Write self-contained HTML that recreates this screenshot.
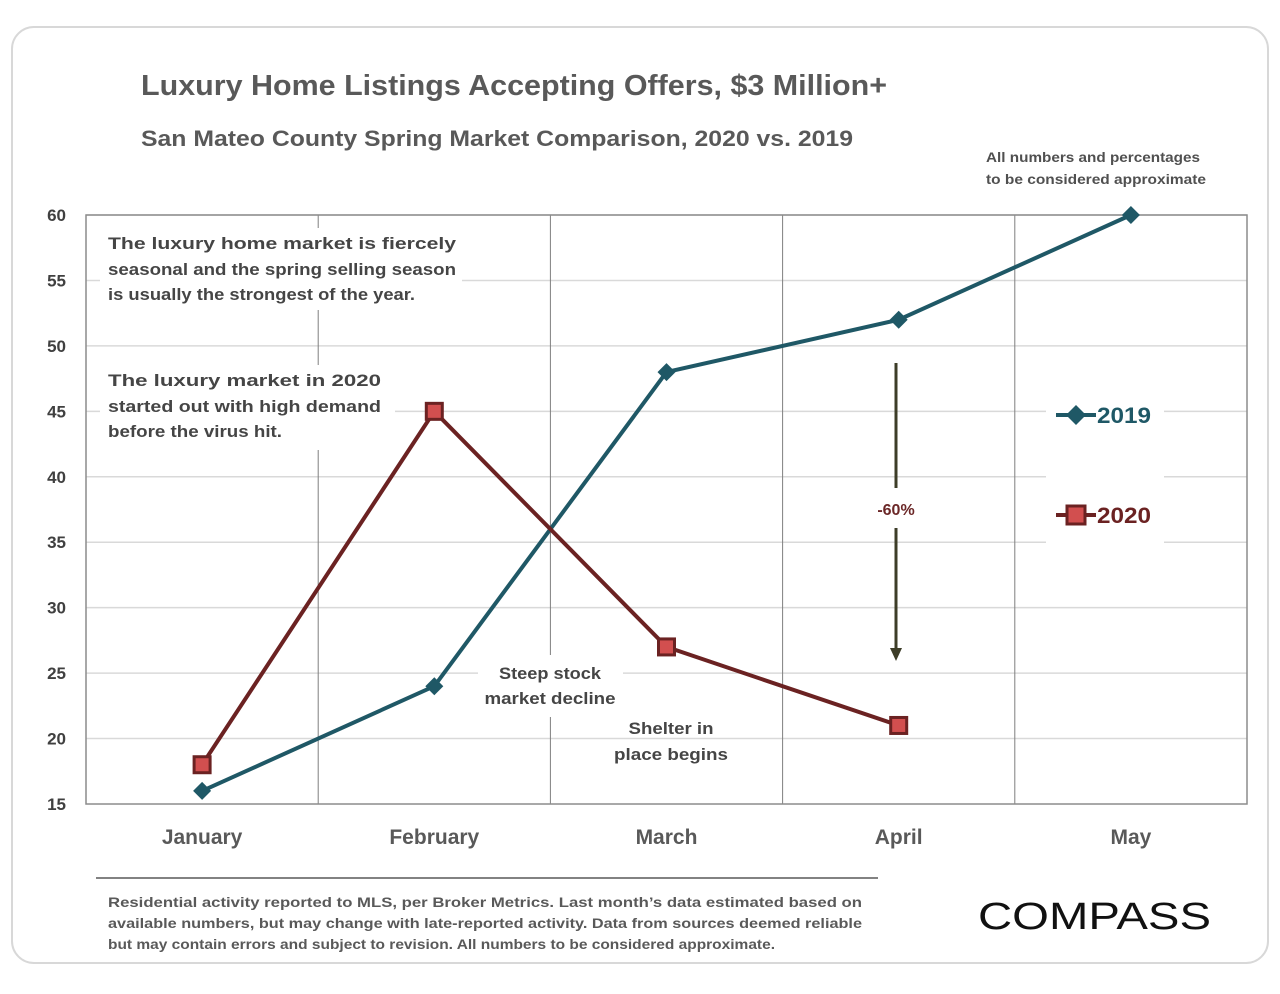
<!DOCTYPE html>
<html><head><meta charset="utf-8"><style>
body{margin:0;background:#fff;font-family:"Liberation Sans",sans-serif;}
svg text{font-family:"Liberation Sans",sans-serif;}
</style></head><body>
<svg width="1280" height="989" viewBox="0 0 1280 989">
<rect x="12" y="27" width="1256" height="936" rx="22" fill="#fff" stroke="#d8d8d8" stroke-width="2"/>
<text x="141" y="95" font-size="29" font-weight="bold" fill="#595959" textLength="746" lengthAdjust="spacingAndGlyphs">Luxury Home Listings Accepting Offers, $3 Million+</text>
<text x="141" y="146" font-size="22" font-weight="bold" fill="#595959" textLength="712" lengthAdjust="spacingAndGlyphs">San Mateo County Spring Market Comparison, 2020 vs. 2019</text>
<text x="986" y="162" font-size="14" font-weight="bold" fill="#505050" textLength="214" lengthAdjust="spacingAndGlyphs">All numbers and percentages</text>
<text x="986" y="184" font-size="14" font-weight="bold" fill="#505050" textLength="220" lengthAdjust="spacingAndGlyphs">to be considered approximate</text>
<g id="grid"></g><g id="axes"></g>
<g id="annos">
<rect x="100" y="228" width="362" height="82" fill="#fff"/>
<text font-size="17" font-weight="bold" fill="#454545" lengthAdjust="spacingAndGlyphs"><tspan x="108" y="249" textLength="348" lengthAdjust="spacingAndGlyphs">The luxury home market is fiercely</tspan><tspan x="108" y="275" textLength="348" lengthAdjust="spacingAndGlyphs">seasonal and the spring selling season</tspan><tspan x="108" y="300" textLength="307" lengthAdjust="spacingAndGlyphs">is usually the strongest of the year.</tspan></text>
<rect x="100" y="365" width="295" height="85" fill="#fff"/>
<text font-size="17" font-weight="bold" fill="#454545"><tspan x="108" y="386" textLength="273" lengthAdjust="spacingAndGlyphs">The luxury market in 2020</tspan><tspan x="108" y="412" textLength="273" lengthAdjust="spacingAndGlyphs">started out with high demand</tspan><tspan x="108" y="437" textLength="174" lengthAdjust="spacingAndGlyphs">before the virus hit.</tspan></text>
<rect x="478" y="655" width="145" height="62" fill="#fff"/>
<text font-size="17" font-weight="bold" fill="#454545" text-anchor="middle"><tspan x="550" y="679" textLength="102" lengthAdjust="spacingAndGlyphs">Steep stock</tspan><tspan x="550" y="704" textLength="131" lengthAdjust="spacingAndGlyphs">market decline</tspan></text>
<text font-size="17" font-weight="bold" fill="#454545" text-anchor="middle"><tspan x="671" y="734" textLength="85" lengthAdjust="spacingAndGlyphs">Shelter in</tspan><tspan x="671" y="760" textLength="114" lengthAdjust="spacingAndGlyphs">place  begins</tspan></text>
<line x1="896" y1="363" x2="896" y2="488" stroke="#3d3d28" stroke-width="3"/>
<line x1="896" y1="528" x2="896" y2="650" stroke="#3d3d28" stroke-width="3"/>
<polygon points="890,648 902,648 896,661" fill="#3d3d28"/>
<text x="896" y="515" font-size="16" font-weight="bold" fill="#6b2727" text-anchor="middle">-60%</text>
</g>
<g id="series"></g>
<g>
<rect x="1046" y="392" width="118" height="152" fill="#fff"/>
<g><line x1="1056" y1="415" x2="1096" y2="415" stroke="#1f5866" stroke-width="4"/><polygon points="1076,405 1086,415 1076,425 1066,415" fill="#1f5866"/><text x="1097" y="423" font-size="22" font-weight="bold" fill="#1f5866" textLength="54" lengthAdjust="spacingAndGlyphs">2019</text></g>
<g><line x1="1056" y1="515" x2="1096" y2="515" stroke="#6b2222" stroke-width="4"/><rect x="1067" y="506" width="18" height="18" fill="#d24f4f" stroke="#6b2222" stroke-width="3"/><text x="1097" y="523" font-size="22" font-weight="bold" fill="#6b2222" textLength="54" lengthAdjust="spacingAndGlyphs">2020</text></g>
</g>
<line x1="96" y1="878" x2="878" y2="878" stroke="#595959" stroke-width="1.5"/>
<text font-size="14" font-weight="bold" fill="#595959"><tspan x="108" y="907" textLength="754" lengthAdjust="spacingAndGlyphs">Residential activity reported to MLS, per Broker Metrics. Last month’s data estimated based on</tspan><tspan x="108" y="928" textLength="754" lengthAdjust="spacingAndGlyphs">available numbers, but may change with late-reported activity. Data from sources deemed reliable</tspan><tspan x="108" y="949" textLength="667" lengthAdjust="spacingAndGlyphs">but may contain errors and subject to revision. All numbers to be considered approximate.</tspan></text>
<text x="978" y="929" font-size="38" fill="#111" textLength="233" lengthAdjust="spacingAndGlyphs">COMPASS</text>
</svg>
<script>
const categories=["January","February","March","April","May"];
const values2019=[16,24,48,52,60];
const values2020=[18,45,27,21];
const yTicks=[15,20,25,30,35,40,45,50,55,60];
const NS="http://www.w3.org/2000/svg";
const L=86,R=1247,T=215,B=804,yMin=15,yMax=60;
const band=(R-L)/categories.length;
const x=i=>L+band*(i+0.5);
const y=v=>B-(v-yMin)/(yMax-yMin)*(B-T);
function mk(tag,attrs,parent){const e=document.createElementNS(NS,tag);for(const k in attrs)e.setAttribute(k,attrs[k]);parent.appendChild(e);return e;}
const grid=document.getElementById('grid'),axes=document.getElementById('axes'),series=document.getElementById('series');
yTicks.forEach(t=>{
 if(t!==yMin){const g=mk('line',{x1:L,x2:R,y1:y(t),y2:y(t),stroke:'#d9d9d9','stroke-width':1.5},grid);
 
 }
 const tx=mk('text',{x:66,y:y(t)+6,'font-size':17,'font-weight':'bold',fill:'#404040','text-anchor':'end'},axes);tx.textContent=t;
 
 
});
for(let i=1;i<categories.length;i++){const g=mk('line',{x1:L+band*i,x2:L+band*i,y1:T,y2:B,stroke:'#7f7f7f','stroke-width':1},grid);
 
 }
const frame=mk('rect',{x:L,y:T,width:R-L,height:B-T,fill:'none',stroke:'#8c8c8c','stroke-width':1.5},axes);


categories.forEach((c,i)=>{const t=mk('text',{x:x(i),y:844,'font-size':21,'font-weight':'bold',fill:'#595959','text-anchor':'middle'},axes);t.textContent=c;
 
 });
function line(vals,color,name){const p=mk('polyline',{points:vals.map((v,i)=>x(i)+','+y(v)).join(' '),fill:'none',stroke:color,'stroke-width':4},series);
 
 }
line(values2019,'#1f5866','line-2019');
line(values2020,'#6b2222','line-2020');
values2019.forEach((v,i)=>{const cx=x(i),cy=y(v);const m=mk('polygon',{points:`${cx},${cy-9} ${cx+9},${cy} ${cx},${cy+9} ${cx-9},${cy}`,fill:'#1f5866'},series);
 
 });
values2020.forEach((v,i)=>{const m=mk('rect',{x:x(i)-8,y:y(v)-8,width:16,height:16,fill:'#d24f4f',stroke:'#6b2222','stroke-width':3},series);
 
 });
</script>
</body></html>
